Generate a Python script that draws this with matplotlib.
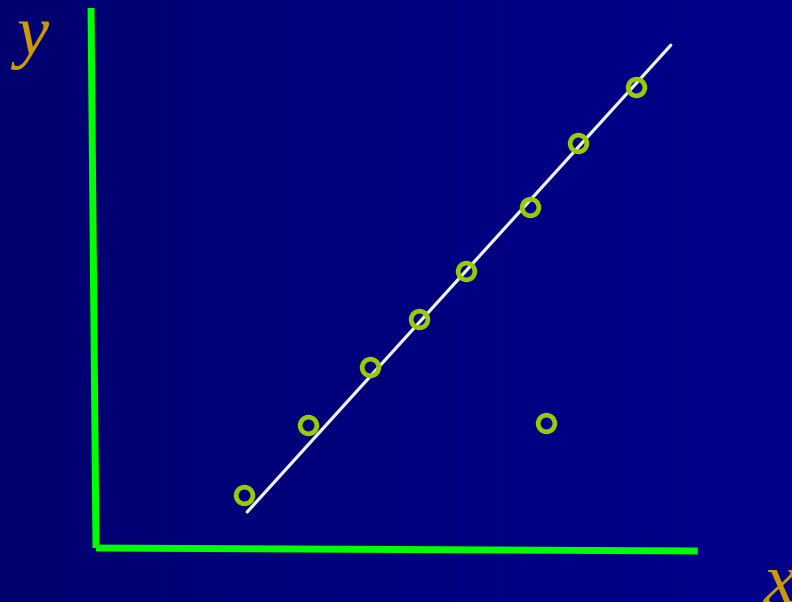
import numpy as np
import matplotlib.pyplot as plt
from matplotlib.colors import LinearSegmentedColormap

# data points (arbitrary units)
x_pts = [2.47, 3.53, 4.57, 5.38, 6.17, 7.23, 8.03, 9.0, 7.5]
y_pts = [0.88, 2.05, 3.02, 3.82, 4.62, 5.68, 6.75, 7.68, 2.08]

# fitted line end points
line_x = [2.52, 9.58]
line_y = [0.60, 8.38]

# hand-drawn style axes
yaxis_x = [-0.083, 0.0]
yaxis_y = [9.0, 0.0]
xaxis_x = [0.0, 10.03]
xaxis_y = [0.0, -0.05]

fig = plt.figure(figsize=(7.92, 6.02), dpi=100)

# background gradient
bg = fig.add_axes([0, 0, 1, 1])
cmap = LinearSegmentedColormap.from_list('bg', ['#000070', '#00008c'])
bg.imshow(np.linspace(0, 1, 256)[None, :], aspect='auto', cmap=cmap, extent=[0, 1, 0, 1])
bg.axis('off')

ax = fig.add_axes([0, 0, 1, 1])
ax.patch.set_alpha(0)
ax.set_xlim(-1.6, 11.6)
ax.set_ylim(-0.9, 9.133)
ax.axis('off')

ax.plot(yaxis_x, yaxis_y, color='#00ff00', linewidth=5, solid_capstyle='butt')
ax.plot(xaxis_x, xaxis_y, color='#00ff00', linewidth=5, solid_capstyle='butt')

ax.plot(line_x, line_y, color='#f0f0f0', linewidth=2.3, solid_capstyle='round')

ax.plot(x_pts, y_pts, linestyle='none', marker='o', markersize=12,
        markerfacecolor='none', markeredgecolor='#99cc00', markeredgewidth=3.4)

ax.text(-1.07, 8.5, 'y', color='#cc9900', fontsize=52, style='italic',
        family='Liberation Serif', ha='center', va='center')
ax.text(11.4, -0.62, 'x', color='#cc9900', fontsize=52, style='italic',
        family='Liberation Serif', ha='center', va='center')

fig.savefig('out.png', dpi=100)
